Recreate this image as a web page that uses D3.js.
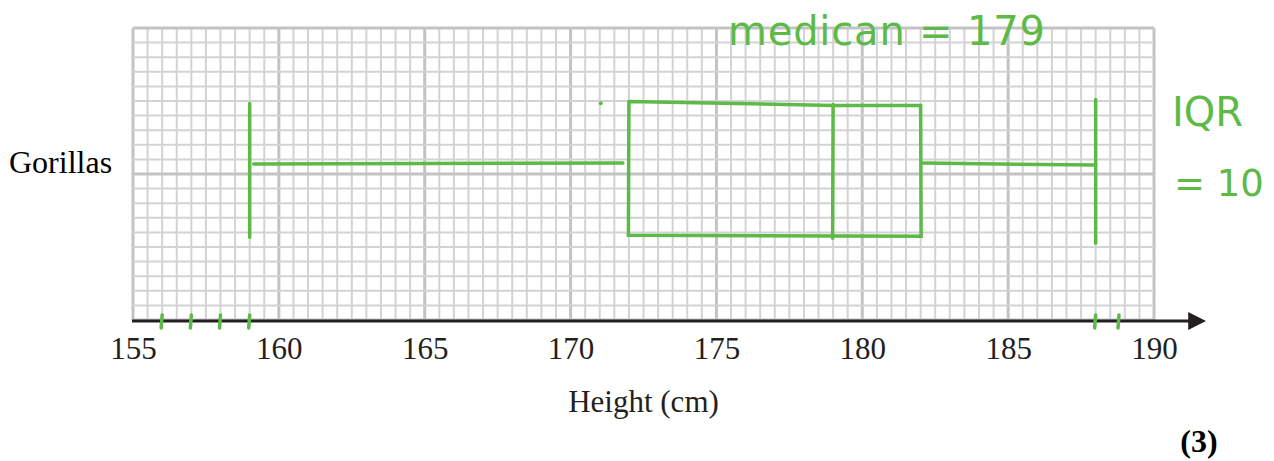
<!DOCTYPE html>
<html>
  <head>
    <meta http-equiv="Content-Type" content="text/html;charset=utf-8"/>
    <title>Gorillas box plot</title>
    <script src="https://d3js.org/d3.v7.min.js"></script>
  </head>
  <body>
    <style>
      body { margin: 0; background: #fff; }
      .serif { font-family: "Liberation Serif", "Times New Roman", serif; }
      .pen { font-family: "DejaVu Sans", sans-serif; }
    </style>
    <script type="text/javascript">

        // data
        const categories = ['Gorillas']
        const minValues = [159]
        const q1Values = [172]
        const medianValues = [179]
        const q3Values = [182]
        const maxValues = [188]
        const tickValues = [155, 160, 165, 170, 175, 180, 185, 190]
        const axisTitle = 'Height (cm)'
        const markValues = [156, 157, 158, 159, 188, 188.8]   // pencil marks on the axis
        const notes = ['medican = 179', 'IQR', '= 10']
        const marksLabel = '(3)'

        const width = 1274,
            height = 461

        const svg = d3.select('body').append('svg')
            .attr('width', width)
            .attr('height', height)

        const x = d3.scaleLinear().domain([155, 190]).range([133, 1154])
        // grid rows, 20 small squares up the paper
        const y = d3.scaleLinear().domain([0, 20]).range([320, 28])
        const band = d3.scaleBand().domain(categories).range([y(20), y(0)])

        const green = '#5dba47'

        // graph paper
        const grid = svg.append('g')
        const xs = d3.range(155, 190.01, 0.5)
        grid.selectAll('line.v')
            .data(xs)
            .enter()
            .append('line')
            .attr('x1', d => x(d)).attr('x2', d => x(d))
            .attr('y1', y(0)).attr('y2', y(20))
            .attr('stroke', d => d % 5 === 0 ? '#c3c3c6' : '#d3d3d6')
            .attr('stroke-width', d => d % 5 === 0 ? 3 : 2)
        grid.selectAll('line.h')
            .data(d3.range(0, 21))
            .enter()
            .append('line')
            .attr('x1', x(155)).attr('x2', x(190))
            .attr('y1', d => y(d)).attr('y2', d => y(d))
            .attr('stroke', d => d % 10 === 0 ? '#c3c3c6' : '#d3d3d6')
            .attr('stroke-width', d => d % 10 === 0 ? 3 : 2)

        // axis with arrow
        svg.append('defs').append('marker')
            .attr('id', 'arrow')
            .attr('viewBox', '0 0 10 10')
            .attr('refX', 1).attr('refY', 5)
            .attr('markerWidth', 6).attr('markerHeight', 6)
            .attr('markerUnits', 'strokeWidth')
            .attr('orient', 'auto')
            .append('path')
            .attr('d', 'M0,0 L10,5 L0,10 Z')
            .attr('fill', '#231f20')

        svg.append('line')
            .attr('x1', x(155) - 1).attr('x2', 1190)
            .attr('y1', y(0) + 1).attr('y2', y(0) + 1)
            .attr('stroke', '#231f20')
            .attr('stroke-width', 3)
            .attr('marker-end', 'url(#arrow)')

        const axis = d3.axisBottom(x).tickValues(tickValues).tickSize(0).tickPadding(16)
        const gAxis = svg.append('g')
            .attr('transform', `translate(0,${y(0) + 1})`)
            .call(axis)
        gAxis.select('.domain').remove()
        gAxis.selectAll('text')
            .attr('class', 'serif')
            .attr('font-family', null)
            .attr('font-size', 31)
            .attr('fill', '#231f20')
        gAxis.attr('font-family', null).attr('font-size', null)

        svg.append('text')
            .attr('class', 'serif')
            .attr('x', x(172.5))
            .attr('y', 412)
            .attr('text-anchor', 'middle')
            .attr('font-size', 31)
            .attr('fill', '#231f20')
            .text(axisTitle)

        // category label
        svg.selectAll('text.cat')
            .data(categories)
            .enter()
            .append('text')
            .attr('class', 'serif')
            .attr('x', 9)
            .attr('y', d => band(d) + band.bandwidth() / 2 - 1)
            .attr('font-size', 32)
            .attr('fill', '#000')
            .text(d => d)

        // the box plot, drawn in green pen
        const boxes = svg.selectAll('g.box')
            .data(categories)
            .enter()
            .append('g')
            .attr('fill', 'none')
            .attr('stroke', green)
            .attr('stroke-width', 3.5)
            .attr('stroke-linecap', 'round')

        boxes.each(function(d, i) {
            const g = d3.select(this)
            const top = y(14.9), bottom = y(5.8), mid = y(10.75)
            const line = d3.line()
            // whiskers
            g.append('path').attr('d', line([[x(minValues[i]) + 4, mid + 1], [x(q1Values[i]) - 6, mid]]))
            g.append('path').attr('d', line([[x(q3Values[i]) + 2, mid], [x(maxValues[i]), mid + 2]]))
            // end caps
            g.append('path').attr('d', line([[x(minValues[i]), top + 1], [x(minValues[i]), bottom + 2]]))
            g.append('path').attr('d', line([[x(maxValues[i]), top - 3], [x(maxValues[i]), bottom + 8]]))
            // box
            g.append('path').attr('d', line([
                [x(q1Values[i]), top - 1],
                [x(medianValues[i]), top + 3],
                [x(q3Values[i]), top + 3],
                [x(q3Values[i]) + 0.5, bottom + 1],
                [x(q1Values[i]) - 0.5, bottom],
                [x(q1Values[i]), top - 1]
            ]))
            // median
            g.append('path').attr('d', line([[x(medianValues[i]), top + 2], [x(medianValues[i]) - 0.5, bottom + 3]]))
        })

        // stray pen dot
        svg.append('circle')
            .attr('cx', x(171) + 1).attr('cy', y(14.85))
            .attr('r', 2).attr('fill', green)

        // pencil marks on the axis
        svg.selectAll('line.mark')
            .data(markValues)
            .enter()
            .append('line')
            .attr('x1', d => x(d)).attr('x2', d => x(d) - 1)
            .attr('y1', y(0) - 5).attr('y2', y(0) + 8)
            .attr('stroke', green)
            .attr('stroke-width', 3.5)
            .attr('stroke-linecap', 'round')

        // handwritten notes
        svg.append('text')
            .attr('class', 'pen')
            .attr('x', 728).attr('y', 45)
            .attr('font-size', 40)
            .attr('letter-spacing', 0.8)
            .attr('fill', green)
            .text(notes[0])
        svg.append('text')
            .attr('class', 'pen')
            .attr('x', 1172).attr('y', 126)
            .attr('font-size', 40)
            .attr('fill', green)
            .text(notes[1])
        svg.append('text')
            .attr('class', 'pen')
            .attr('x', 1174).attr('y', 196)
            .attr('font-size', 37)
            .attr('fill', green)
            .text(notes[2])

        svg.append('text')
            .attr('class', 'serif')
            .attr('x', 1199).attr('y', 452)
            .attr('text-anchor', 'middle')
            .attr('font-size', 32)
            .attr('font-weight', 'bold')
            .attr('fill', '#000')
            .text(marksLabel)

    </script>
  </body>
</html>
